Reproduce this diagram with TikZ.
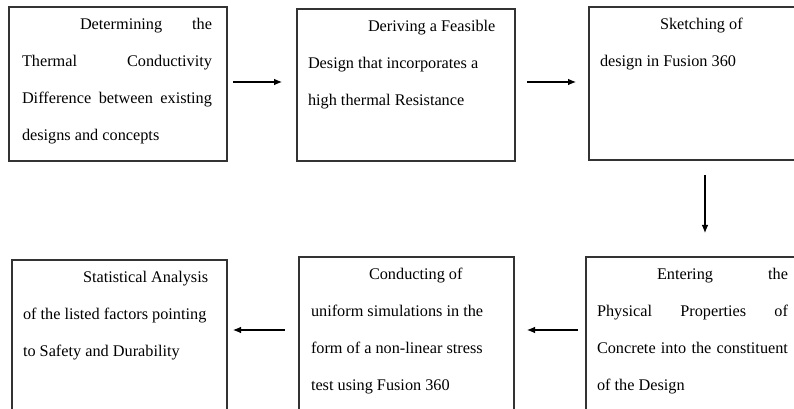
\documentclass[tikz,border=0pt]{standalone}
\usepackage{fontspec}
\setmainfont{Liberation Serif}
\usetikzlibrary{arrows.meta,calc,fit}
\tikzset{
  box/.style={draw=black!80, line width=1.1pt, inner sep=0pt, outer sep=0pt, rectangle},
  txt/.style={inner sep=0pt, outer sep=0pt, anchor=base west, font=\fontsize{12.2}{14}\selectfont},
  arr/.style={draw=black, line width=0.8pt, -{Latex[length=6pt,width=5pt]}}
}
\begin{document}
\begin{tikzpicture}[x=0.75pt,y=-0.75pt]
\useasboundingbox (0,0) rectangle (794,409);
\clip (0,0) rectangle (794,409);
\fill[white] (0,0) rectangle (794,409);
% boxes
\node[box, fit={(9,7) (227,161)}] (b1) {};
\node[box, fit={(297,9) (515,161)}] (b2) {};
\node[box, fit={(589,7) (820,160)}] (b3) {};
\node[box, fit={(12,260) (227,440)}] (b4) {};
\node[box, fit={(299,257) (514,440)}] (b5) {};
\node[box, fit={(586,257) (800,440)}] (b6) {};
% box 1 text
\node[txt] (t11) at (80,30) {\makebox[99pt][s]{Determining the}};
\node[txt] (t12) at (22,67) {\makebox[142.5pt][s]{Thermal Conductivity}};
\node[txt] (t13) at (22,104) {\makebox[142.5pt][s]{Difference between existing}};
\node[txt] (t14) at (22,141) {designs and concepts};
% box 2 text
\node[txt] (t21) at (368,32) {Deriving a Feasible};
\node[txt] (t22) at (308,69) {Design that incorporates a};
\node[txt] (t23) at (308,106) {high thermal Resistance};
% box 3 text
\node[txt] (t31) at (660,30) {Sketching of};
\node[txt] (t32) at (600,67) {design in Fusion 360};
% box 4 text
\node[txt] (t41) at (83,283) {Statistical Analysis};
\node[txt] (t42) at (23,320) {of the listed factors pointing};
\node[txt] (t43) at (23,357) {to Safety and Durability};
% box 5 text
\node[txt] (t51) at (369,280) {Conducting of};
\node[txt] (t52) at (311,317) {uniform simulations in the};
\node[txt] (t53) at (311,354) {form of a non-linear stress};
\node[txt] (t54) at (311,391) {test using Fusion 360};
% box 6 text
\node[txt] (t61) at (657,280) {\makebox[98.25pt][s]{Entering the}};
\node[txt] (t62) at (597,317) {\makebox[143.25pt][s]{Physical Properties of}};
\node[txt] (t63) at (597,354) {\makebox[143.25pt][s]{Concrete into the constituent}};
\node[txt] (t64) at (597,391) {of the Design};
% arrows
\draw[arr] ($(b1.north east)+(6,75)$) -- ($(b2.north west)+(-15,73)$);
\draw[arr] ($(b2.north east)+(12,73)$) -- ($(b3.north west)+(-13,75)$);
\draw[arr] ($(b3.south)+(0.5,15)$) -- ($(b6.north)+(12,-24)$);
\draw[arr] ($(b6.north west)+(-8,73)$) -- ($(b5.north east)+(13,73)$);
\draw[arr] ($(b5.north west)+(-14,73)$) -- ($(b4.north east)+(6,70)$);
\end{tikzpicture}
\end{document}
